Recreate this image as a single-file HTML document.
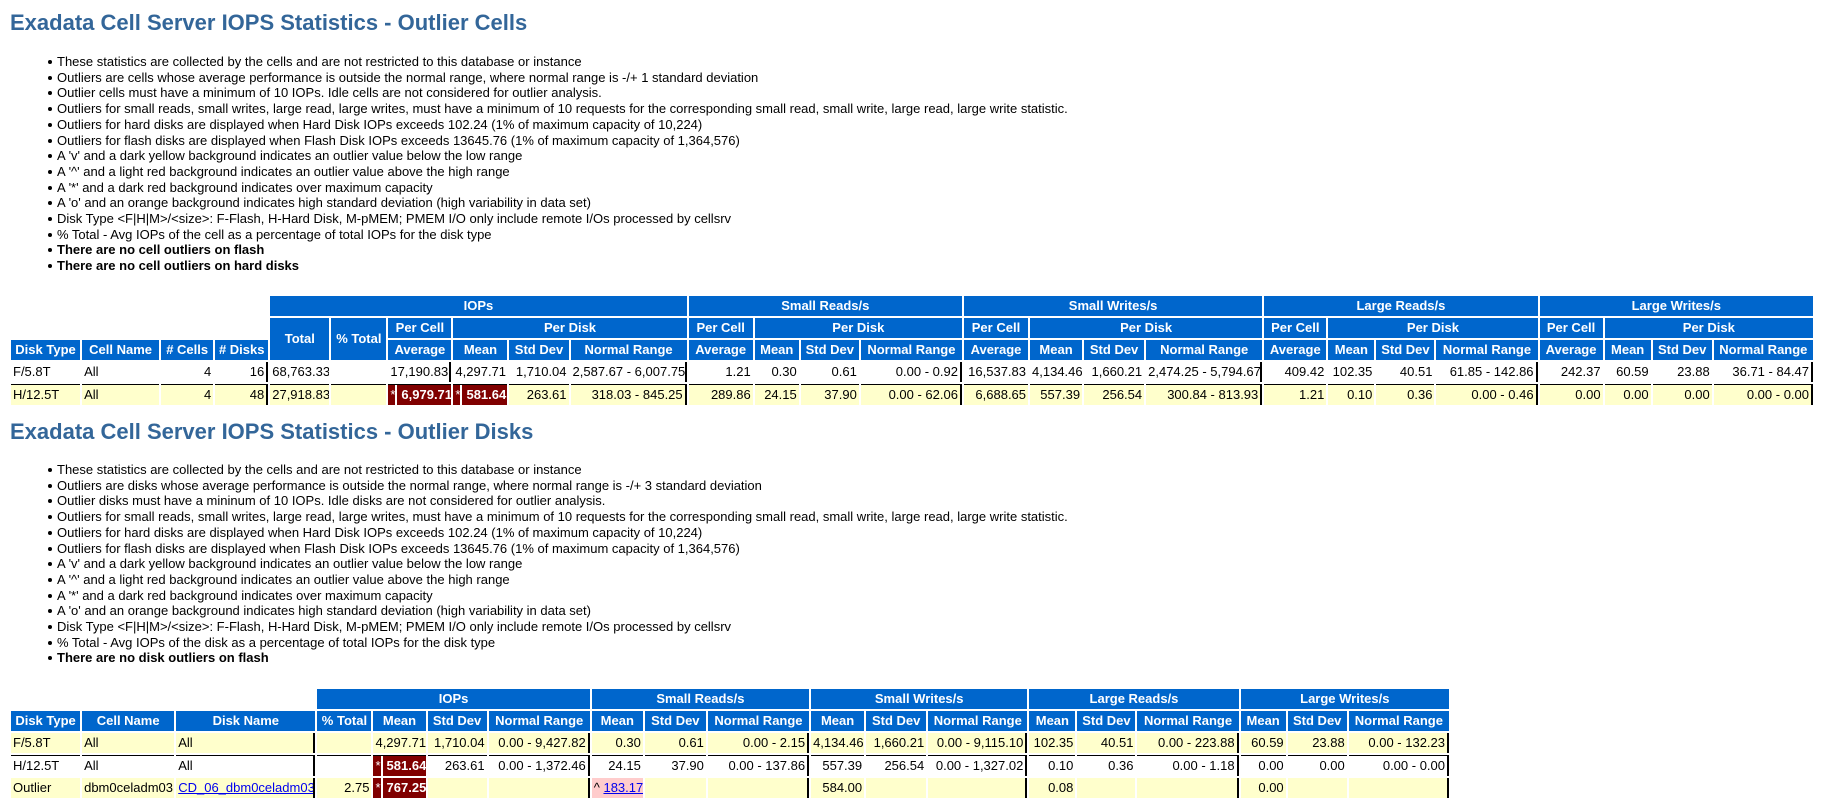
<!DOCTYPE html>
<html><head><meta charset="utf-8">
<style>
body{margin:0;width:1822px;height:807px;background:#fff;position:relative;overflow:hidden;font-family:"Liberation Sans",Arial,sans-serif;font-size:13px;color:#000}
.title{position:absolute;left:10px;font-size:22px;font-weight:bold;color:#336699;line-height:26px;white-space:nowrap}
.bl{position:absolute;left:57px;line-height:15.7px;white-space:nowrap}
.bl div{position:relative}
.bl div::before{content:"";position:absolute;left:-9px;top:6px;width:4px;height:4px;border-radius:50%;background:#000}
.bl b{font-weight:bold}
table{position:absolute;left:9px;border-collapse:separate;border-spacing:2px;table-layout:fixed}
th{background:#0066CC;color:#fff;font-weight:bold;height:20px;padding:0 2px;text-align:center;white-space:nowrap;overflow:hidden;line-height:20px}
th.e{background:#fff}
td{height:20px;padding:0 2px;white-space:nowrap;overflow:hidden;line-height:20px;background:#fff}
tr.y td{background:#FFFFCC}
tr.bt td{border-top:1px solid #000;height:19px}
td.n{text-align:right}
td.r{border-right:2px solid #000}
td.mr{background:#800000!important;color:#fff;font-weight:bold;text-align:right;padding:0}
td.mr span{display:inline-block;padding:0 3px 0 4px;border-left:2px solid #fff}
td.mr i{float:left;font-style:normal;font-weight:normal;padding-left:2px}
td.pk{background:#FFCCCC!important;padding-left:2px}
a{color:#0000EE;text-decoration:underline}
</style></head><body>

<div class="title" style="top:10px">Exadata Cell Server IOPS Statistics - Outlier Cells</div>
<div class="bl" style="top:54px">
<div>These statistics are collected by the cells and are not restricted to this database or instance</div>
<div>Outliers are cells whose average performance is outside the normal range, where normal range is -/+ 1 standard deviation</div>
<div>Outlier cells must have a minimum of 10 IOPs. Idle cells are not considered for outlier analysis.</div>
<div>Outliers for small reads, small writes, large read, large writes, must have a minimum of 10 requests for the corresponding small read, small write, large read, large write statistic.</div>
<div>Outliers for hard disks are displayed when Hard Disk IOPs exceeds 102.24 (1% of maximum capacity of 10,224)</div>
<div>Outliers for flash disks are displayed when Flash Disk IOPs exceeds 13645.76 (1% of maximum capacity of 1,364,576)</div>
<div>A 'v' and a dark yellow background indicates an outlier value below the low range</div>
<div>A '^' and a light red background indicates an outlier value above the high range</div>
<div>A '*' and a dark red background indicates over maximum capacity</div>
<div>A 'o' and an orange background indicates high standard deviation (high variability in data set)</div>
<div>Disk Type &lt;F|H|M&gt;/&lt;size&gt;: F-Flash, H-Hard Disk, M-pMEM; PMEM I/O only include remote I/Os processed by cellsrv</div>
<div>% Total - Avg IOPs of the cell as a percentage of total IOPs for the disk type</div>
<div><b>There are no cell outliers on flash</b></div>
<div><b>There are no cell outliers on hard disks</b></div>
</div>

<table style="top:294px;width:1806px">
<colgroup><col style="width:69px"><col style="width:77px"><col style="width:52px"><col style="width:53px"><col style="width:59px"><col style="width:55px"><col style="width:63px"><col style="width:54px"><col style="width:59px"><col style="width:116px"><col style="width:64px"><col style="width:44px"><col style="width:58px"><col style="width:101px"><col style="width:64px"><col style="width:52px"><col style="width:60px"><col style="width:116px"><col style="width:62px"><col style="width:46px"><col style="width:58px"><col style="width:101px"><col style="width:63px"><col style="width:46px"><col style="width:59px"><col style="width:99px"></colgroup>
<tr><th class="e" colspan="4"></th><th colspan="6">IOPs</th><th colspan="4">Small Reads/s</th><th colspan="4">Small Writes/s</th><th colspan="4">Large Reads/s</th><th colspan="4">Large Writes/s</th></tr>
<tr><th class="e" colspan="4"></th><th rowspan="2">Total</th><th rowspan="2">% Total</th><th>Per Cell</th><th colspan="3">Per Disk</th><th>Per Cell</th><th colspan="3">Per Disk</th><th>Per Cell</th><th colspan="3">Per Disk</th><th>Per Cell</th><th colspan="3">Per Disk</th><th>Per Cell</th><th colspan="3">Per Disk</th></tr>
<tr><th>Disk Type</th><th>Cell Name</th><th># Cells</th><th># Disks</th><th>Average</th><th>Mean</th><th>Std Dev</th><th>Normal Range</th><th>Average</th><th>Mean</th><th>Std Dev</th><th>Normal Range</th><th>Average</th><th>Mean</th><th>Std Dev</th><th>Normal Range</th><th>Average</th><th>Mean</th><th>Std Dev</th><th>Normal Range</th><th>Average</th><th>Mean</th><th>Std Dev</th><th>Normal Range</th></tr>
<tr><td>F/5.8T</td><td>All</td><td class="n">4</td><td class="n r">16</td><td class="n">68,763.33</td><td></td><td class="n r">17,190.83</td><td class="n">4,297.71</td><td class="n">1,710.04</td><td class="n r">2,587.67 - 6,007.75</td><td class="n">1.21</td><td class="n">0.30</td><td class="n">0.61</td><td class="n r">0.00 - 0.92</td><td class="n">16,537.83</td><td class="n">4,134.46</td><td class="n">1,660.21</td><td class="n r">2,474.25 - 5,794.67</td><td class="n">409.42</td><td class="n">102.35</td><td class="n">40.51</td><td class="n r">61.85 - 142.86</td><td class="n">242.37</td><td class="n">60.59</td><td class="n">23.88</td><td class="n r">36.71 - 84.47</td></tr>
<tr class="y bt"><td>H/12.5T</td><td>All</td><td class="n">4</td><td class="n r">48</td><td class="n">27,918.83</td><td></td><td class="mr"><i>*</i><span>6,979.71</span></td><td class="mr"><i>*</i><span>581.64</span></td><td class="n">263.61</td><td class="n r">318.03 - 845.25</td><td class="n">289.86</td><td class="n">24.15</td><td class="n">37.90</td><td class="n r">0.00 - 62.06</td><td class="n">6,688.65</td><td class="n">557.39</td><td class="n">256.54</td><td class="n r">300.84 - 813.93</td><td class="n">1.21</td><td class="n">0.10</td><td class="n">0.36</td><td class="n r">0.00 - 0.46</td><td class="n">0.00</td><td class="n">0.00</td><td class="n">0.00</td><td class="n r">0.00 - 0.00</td></tr>
</table>

<div class="title" style="top:419px">Exadata Cell Server IOPS Statistics - Outlier Disks</div>
<div class="bl" style="top:462px">
<div>These statistics are collected by the cells and are not restricted to this database or instance</div>
<div>Outliers are disks whose average performance is outside the normal range, where normal range is -/+ 3 standard deviation</div>
<div>Outlier disks must have a mininum of 10 IOPs. Idle disks are not considered for outlier analysis.</div>
<div>Outliers for small reads, small writes, large read, large writes, must have a minimum of 10 requests for the corresponding small read, small write, large read, large write statistic.</div>
<div>Outliers for hard disks are displayed when Hard Disk IOPs exceeds 102.24 (1% of maximum capacity of 10,224)</div>
<div>Outliers for flash disks are displayed when Flash Disk IOPs exceeds 13645.76 (1% of maximum capacity of 1,364,576)</div>
<div>A 'v' and a dark yellow background indicates an outlier value below the low range</div>
<div>A '^' and a light red background indicates an outlier value above the high range</div>
<div>A '*' and a dark red background indicates over maximum capacity</div>
<div>A 'o' and an orange background indicates high standard deviation (high variability in data set)</div>
<div>Disk Type &lt;F|H|M&gt;/&lt;size&gt;: F-Flash, H-Hard Disk, M-pMEM; PMEM I/O only include remote I/Os processed by cellsrv</div>
<div>% Total - Avg IOPs of the disk as a percentage of total IOPs for the disk type</div>
<div><b>There are no disk outliers on flash</b></div>
</div>

<table style="top:687px;width:1442px">
<colgroup><col style="width:69px"><col style="width:92px"><col style="width:139px"><col style="width:54px"><col style="width:52px"><col style="width:59px"><col style="width:101px"><col style="width:51px"><col style="width:61px"><col style="width:101px"><col style="width:53px"><col style="width:60px"><col style="width:99px"><col style="width:46px"><col style="width:58px"><col style="width:101px"><col style="width:45px"><col style="width:59px"><col style="width:100px"></colgroup>
<tr><th class="e" colspan="3"></th><th colspan="4">IOPs</th><th colspan="3">Small Reads/s</th><th colspan="3">Small Writes/s</th><th colspan="3">Large Reads/s</th><th colspan="3">Large Writes/s</th></tr>
<tr><th>Disk Type</th><th>Cell Name</th><th>Disk Name</th><th>% Total</th><th>Mean</th><th>Std Dev</th><th>Normal Range</th><th>Mean</th><th>Std Dev</th><th>Normal Range</th><th>Mean</th><th>Std Dev</th><th>Normal Range</th><th>Mean</th><th>Std Dev</th><th>Normal Range</th><th>Mean</th><th>Std Dev</th><th>Normal Range</th></tr>
<tr class="y"><td>F/5.8T</td><td>All</td><td class="r">All</td><td></td><td class="n">4,297.71</td><td class="n">1,710.04</td><td class="n r">0.00 - 9,427.82</td><td class="n">0.30</td><td class="n">0.61</td><td class="n r">0.00 - 2.15</td><td class="n">4,134.46</td><td class="n">1,660.21</td><td class="n r">0.00 - 9,115.10</td><td class="n">102.35</td><td class="n">40.51</td><td class="n r">0.00 - 223.88</td><td class="n">60.59</td><td class="n">23.88</td><td class="n r">0.00 - 132.23</td></tr>
<tr class="bt"><td>H/12.5T</td><td>All</td><td class="r">All</td><td></td><td class="mr"><i>*</i><span>581.64</span></td><td class="n">263.61</td><td class="n r">0.00 - 1,372.46</td><td class="n">24.15</td><td class="n">37.90</td><td class="n r">0.00 - 137.86</td><td class="n">557.39</td><td class="n">256.54</td><td class="n r">0.00 - 1,327.02</td><td class="n">0.10</td><td class="n">0.36</td><td class="n r">0.00 - 1.18</td><td class="n">0.00</td><td class="n">0.00</td><td class="n r">0.00 - 0.00</td></tr>
<tr class="y"><td>Outlier</td><td>dbm0celadm03</td><td class="r"><a href="#">CD_06_dbm0celadm03</a></td><td class="n">2.75</td><td class="mr"><i>*</i><span>767.25</span></td><td></td><td class="r"></td><td class="pk">^ <a href="#">183.17</a></td><td></td><td class="r"></td><td class="n">584.00</td><td></td><td class="r"></td><td class="n">0.08</td><td></td><td class="r"></td><td class="n">0.00</td><td></td><td class="r"></td></tr>
</table>
</body></html>
